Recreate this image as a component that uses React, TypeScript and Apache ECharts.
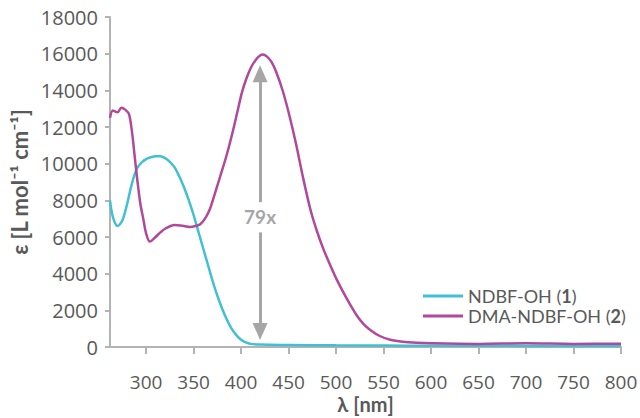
import React, { useEffect, useRef } from "react";
import * as echarts from "echarts";

const cyanNm = [262, 265, 270, 275, 280, 285, 290, 295, 300, 305, 310, 315, 320, 325, 330, 335, 340, 345, 350, 355, 360, 365, 370, 375, 380, 385, 390, 395, 400, 405, 410, 420, 450, 500, 550, 600, 650, 700, 750, 800];
const cyanEps = [8000, 7100, 6600, 6900, 7800, 8900, 9700, 10050, 10250, 10350, 10400, 10400, 10300, 10100, 9800, 9300, 8700, 8000, 7200, 6300, 5400, 4500, 3600, 2800, 2100, 1500, 1000, 650, 400, 250, 170, 130, 110, 90, 80, 70, 65, 60, 55, 50];

const magNm = [262, 265, 270, 274, 278, 282, 285, 288, 291, 294, 297, 300, 304, 310, 315, 320, 330, 340, 346, 352, 357, 362, 367, 372, 378, 385, 391, 396, 401, 406, 411, 416, 420, 423, 427, 432, 437, 444, 451, 458, 465, 473, 480, 487, 494, 501, 508, 515, 522, 529, 536, 546, 557, 570, 585, 600, 650, 700, 750, 800];
const magEps = [12500, 12900, 12800, 13050, 12950, 12700, 11800, 10400, 9000, 7800, 7000, 6200, 5750, 6000, 6250, 6450, 6650, 6600, 6550, 6600, 6700, 7000, 7500, 8300, 9300, 10500, 11700, 12800, 13900, 14700, 15300, 15700, 15900, 15950, 15850, 15550, 15000, 13950, 12600, 11050, 9300, 7500, 6300, 5300, 4450, 3650, 2950, 2300, 1700, 1250, 930, 600, 400, 290, 230, 200, 170, 200, 170, 180];

const xTicks = [300, 350, 400, 450, 500, 550, 600, 650, 700, 750, 800];
const seriesNames = ["NDBF-OH (1)", "DMA-NDBF-OH (2)"];
const ratioLabel = "79x";
const arrowNm = 420;
const arrowUpper = [7900, 14900];
const arrowLower = [6250, 850];
const ratioLabelAt = 7100;

const FONT = "Lato, 'Open Sans', sans-serif";
const NUMFONT = "'Open Sans', Lato, sans-serif";
const TEXT = "#595959";
const AXIS = "#B3B3B3";
const CYAN = "#41C0D1";
const MAGENTA = "#B0489C";
const ARROW = "#A6A6A6";

export default function App() {
  const ref = useRef<HTMLDivElement>(null);
  useEffect(() => {
    if (!ref.current) return;
    const chart = echarts.init(ref.current, null, { renderer: "svg" });
    const cyanData = cyanNm.map((x, i) => [x, cyanEps[i]]);
    const magData = magNm.map((x, i) => [x, magEps[i]]);
    chart.setOption({
      animation: false,
      textStyle: { fontFamily: FONT },
      grid: { left: 110, right: 19, top: 17, bottom: 71, containLabel: false, outerBoundsMode: "none" },
      legend: {
        orient: "vertical",
        left: 418,
        top: 281,
        itemWidth: 40,
        itemHeight: 3,
        itemGap: 0,
        icon: "rect",
        data: seriesNames,
        textStyle: {
          color: TEXT,
          fontSize: 18,
          lineHeight: 20,
          fontFamily: FONT,
          rich: {
            b: { fontWeight: "bold", fontSize: 18, color: TEXT, fontFamily: FONT, lineHeight: 20 },
          },
        },
        formatter: (name: string) => name.replace(/\((\d)\)/, "({b|$1})"),
      },
      xAxis: {
        type: "value",
        min: 262,
        max: 800,
        name: "λ [nm]",
        nameLocation: "middle",
        nameGap: 46,
        nameMoveOverlap: false,
        nameTextStyle: { color: TEXT, fontSize: 20, fontWeight: "bold", fontFamily: FONT, lineHeight: 21 },
        axisLine: { show: true, lineStyle: { color: AXIS, width: 2 } },
        axisTick: { show: true, length: 7, lineStyle: { color: AXIS, width: 2 }, customValues: xTicks },
        axisLabel: { color: TEXT, fontSize: 19, margin: 25, lineHeight: 19, customValues: xTicks, fontFamily: NUMFONT },
        splitLine: { show: false },
      },
      yAxis: {
        type: "value",
        min: 0,
        max: 18000,
        interval: 2000,
        name: "ε [L mol⁻¹ cm⁻¹]",
        nameLocation: "middle",
        nameGap: 80,
        nameRotate: 90,
        nameMoveOverlap: false,
        nameTextStyle: { color: TEXT, fontSize: 22, fontWeight: "bold", fontFamily: FONT },
        axisLine: { show: true, lineStyle: { color: AXIS, width: 2 } },
        axisTick: { show: true, length: 5, lineStyle: { color: AXIS, width: 2 } },
        axisLabel: { color: TEXT, fontSize: 20, margin: 12, fontFamily: NUMFONT, formatter: (v: number) => String(v) },
        splitLine: { show: false },
      },
      series: [
        {
          name: seriesNames[0],
          type: "line",
          data: cyanData,
          showSymbol: false,
          smooth: 0.3,
          lineStyle: { color: CYAN, width: 2.5 },
          itemStyle: { color: CYAN },
          z: 2,
        },
        {
          name: seriesNames[1],
          type: "line",
          data: magData,
          showSymbol: false,
          smooth: 0.3,
          lineStyle: { color: MAGENTA, width: 2.5 },
          itemStyle: { color: MAGENTA },
          z: 3,
          markLine: {
            silent: true,
            symbol: ["none", "triangle"],
            symbolSize: [15, 17],
            label: { show: false },
            lineStyle: { color: ARROW, width: 3, type: "solid" },
            data: [
              [{ coord: [arrowNm, arrowUpper[0]] }, { coord: [arrowNm, arrowUpper[1]] }],
              [{ coord: [arrowNm, arrowLower[0]] }, { coord: [arrowNm, arrowLower[1]] }],
            ],
          },
          markPoint: {
            silent: true,
            symbol: "circle",
            symbolSize: 0,
            data: [{ coord: [arrowNm, ratioLabelAt], value: ratioLabel }],
            label: {
              show: true,
              position: "inside",
              formatter: ratioLabel,
              color: ARROW,
              fontSize: 19,
              fontWeight: "bold",
              fontFamily: FONT,
            },
          },
        },
      ],
    });
    return () => chart.dispose();
  }, []);
  return <div ref={ref} style={{ width: 640, height: 418, position: "absolute", left: 0, top: 0 }} />;
}
